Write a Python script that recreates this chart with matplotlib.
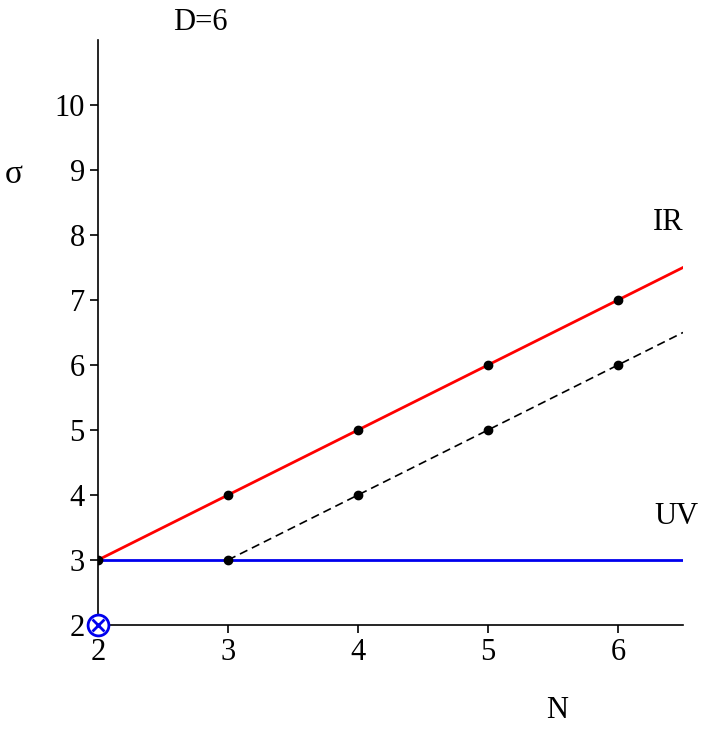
import matplotlib
matplotlib.use("Agg")
import matplotlib.pyplot as plt

plt.rcParams['font.family'] = ['Liberation Serif', 'DejaVu Serif']

ir_N = [2, 6.5]; ir_s = [3, 7.5]
ir_pts_N = [2, 3, 4, 5, 6]; ir_pts_s = [3, 4, 5, 6, 7]
dash_N = [3, 6.5]; dash_s = [3, 6.5]
dash_pts_N = [3, 4, 5, 6]; dash_pts_s = [3, 4, 5, 6]
uv_N = [2, 6.5]; uv_s = [3, 3]
xticks = [2, 3, 4, 5, 6]
yticks = [2, 3, 4, 5, 6, 7, 8, 9, 10]

fig = plt.figure(figsize=(7.22, 7.43), dpi=100)
ax = fig.add_axes([98/722, 1-625/743, (683-98)/722, (625-40)/743])
ax.plot(ir_N, ir_s, color='#ff0000', lw=2, zorder=2)
ax.plot(uv_N, uv_s, color='#0000ee', lw=2, zorder=2)
ax.plot(dash_N, dash_s, color='black', lw=1.2, ls=(0, (5, 3)), zorder=2)
ax.plot(ir_pts_N, ir_pts_s, 'o', color='black', ms=6, zorder=3)
ax.plot(dash_pts_N, dash_pts_s, 'o', color='black', ms=6, zorder=3)
ax.plot([2], [2], 'o', mfc='white', mec='#0000ee', mew=2, ms=15, zorder=4, clip_on=False)
ax.plot([2], [2], 'x', color='#0000ee', mew=2, ms=8, zorder=5, clip_on=False)
ax.set_xlim(2, 6.5)
ax.set_ylim(2, 11)
ax.set_xticks(xticks)
ax.set_yticks(yticks)
ax.tick_params(labelsize=22, width=1.2, length=6)
for s in ['top', 'right']:
    ax.spines[s].set_visible(False)
for s in ['left', 'bottom']:
    ax.spines[s].set_linewidth(1.2)
fig.text(200/722, 1-22/743, 'D=6', fontsize=22, ha='center', va='center')
fig.text(14/722, 1-175/743, 'σ', fontsize=24, ha='center', va='center')
fig.text(557/722, 1-710/743, 'N', fontsize=22, ha='center', va='center')
fig.text(668/722, 1-222/743, 'IR', fontsize=22, ha='center', va='center')
fig.text(676/722, 1-517/743, 'UV', fontsize=22, ha='center', va='center')
fig.savefig('out.png', dpi=100)
